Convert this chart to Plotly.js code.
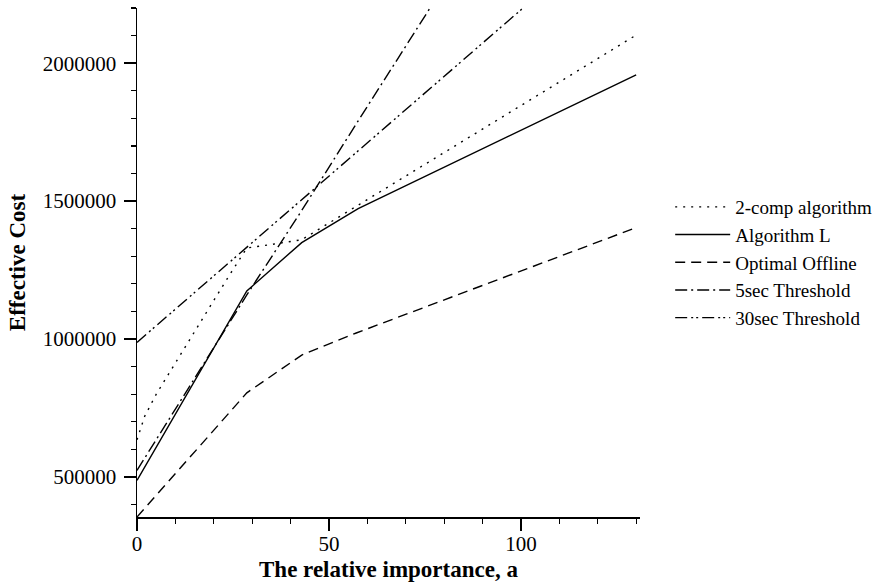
<!DOCTYPE html>
<html>
<head>
<meta charset="utf-8">
<script src="https://cdn.plot.ly/plotly-3.0.1.min.js"></script>
<style>html,body{margin:0;padding:0;background:#fff;}#chart{width:896px;height:588px;}</style>
</head>
<body>
<div id="chart"></div>
<script>
// Data
const seriesNames = ["2-comp algorithm", "Algorithm L", "Optimal Offline", "5sec Threshold", "30sec Threshold"];

const xTwoComp = [0, 2, 5, 10, 15, 20, 24, 28.6, 35, 42.9, 130];
const yTwoComp = [635000, 720000, 800000, 915000, 1030000, 1140000, 1230000, 1330000, 1343000, 1360000, 2102000];

const xAlgL = [0, 28.6, 42.9, 57.6, 130];
const yAlgL = [488000, 1174600, 1349600, 1472500, 1957700];

const xOptimal = [0, 28.6, 42.9, 57.1, 130];
const yOptimal = [355000, 805000, 942000, 1022000, 1404000];

const x5sec = [0, 28.6, 42.9, 57.1, 85.7];
const y5sec = [524000, 1160000, 1466000, 1780000, 2405000];

const x30sec = [0, 28.6, 42.9, 57.1, 100, 130];
const y30sec = [988000, 1333000, 1505000, 1677000, 2195000, 2555000];

const yTickVals = [500000, 1000000, 1500000, 2000000];
const yTickText = ["500000", "1000000", "1500000", "2000000"];
const xTickVals = [0, 50, 100];
const xTickText = ["0", "50", "100"];

const dashes = ["2px,6px", "solid", "10px,6px", "12px,4px,2px,4px", "12px,4px,2px,3px,2px,4px"];
const xs = [xTwoComp, xAlgL, xOptimal, x5sec, x30sec];
const ys = [yTwoComp, yAlgL, yOptimal, y5sec, y30sec];

const traces = seriesNames.map((n, i) => ({
  x: xs[i], y: ys[i], name: n, type: "scatter", mode: "lines",
  line: {color: "#000", width: 1.4, dash: dashes[i]}
}));

const font = "Liberation Serif, Times New Roman, serif";
const layout = {
  width: 896, height: 588,
  margin: {l: 137, r: 256, t: 8, b: 71},
  paper_bgcolor: "#fff", plot_bgcolor: "#fff",
  font: {family: font, size: 20, color: "#000"},
  showlegend: true,
  legend: {x: 1.06, xanchor: "left", y: 0.5, yanchor: "middle", font: {family: font, size: 19, color: "#000"},
           itemwidth: 55, tracegroupgap: 0, bgcolor: "rgba(0,0,0,0)"},
  xaxis: {
    range: [0, 131], showgrid: false, zeroline: false, showline: true, linecolor: "#000", linewidth: 1.5,
    tickvals: xTickVals, ticktext: xTickText, ticks: "outside", ticklen: 12, tickwidth: 1.5, tickcolor: "#000",
    tickfont: {family: font, size: 21, color: "#000"}, ticklabelstandoff: -5,
    minor: {dtick: 10, tick0: 0, ticks: "outside", ticklen: 5, tickwidth: 1.2, tickcolor: "#000"},
    title: {text: "<b>The relative importance, a</b>", font: {family: font, size: 23, color: "#000"}, standoff: 6}
  },
  yaxis: {
    range: [355000, 2200000], showgrid: false, zeroline: false, showline: true, linecolor: "#000", linewidth: 1.5,
    tickvals: yTickVals, ticktext: yTickText, ticks: "outside", ticklen: 12, tickwidth: 1.5, tickcolor: "#000",
    tickfont: {family: font, size: 21, color: "#000"}, ticklabelstandoff: 3,
    minor: {dtick: 100000, tick0: 0, ticks: "outside", ticklen: 5, tickwidth: 1.2, tickcolor: "#000"},
    title: {text: "<b>Effective Cost</b>", font: {family: font, size: 23, color: "#000"}, standoff: 10}
  }
};

Plotly.newPlot("chart", traces, layout, {displayModeBar: false, staticPlot: true});
</script>
</body>
</html>
